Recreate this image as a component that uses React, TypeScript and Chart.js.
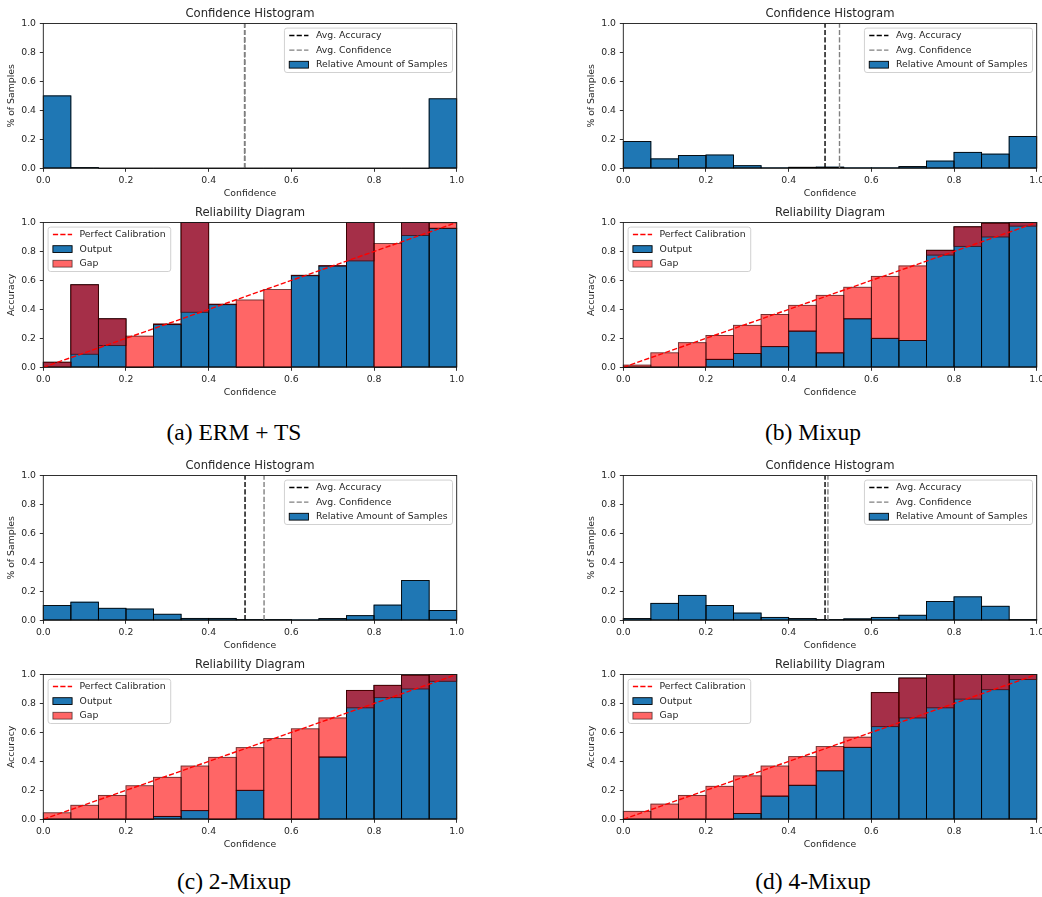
import React, { useEffect, useRef } from 'react';
import { Chart, registerables } from 'chart.js';

Chart.register(...registerables);

// ---------- data ----------
const binCenters = ['0.03', '0.10', '0.17', '0.23', '0.30', '0.37', '0.43', '0.50', '0.57', '0.63', '0.70', '0.77', '0.83', '0.90', '0.97'];
const confidenceTicks = [0, 0.2, 0.4, 0.6, 0.8, 1.0];
const valueTicks = [0, 0.2, 0.4, 0.6, 0.8, 1.0];

// (a) ERM + TS
const histA = [0.5, 0.005, 0, 0, 0, 0, 0, 0, 0, 0, 0, 0, 0, 0, 0.48];
const accA = [0.035, 0.57, 0.335, 0, 0.295, 1.0, 0.433, 0, 0, 0.633, 0.7, 1.0, 0, 1.0, 0.96];
const confA = [0.003, 0.09, 0.15, 0.215, 0.3, 0.38, 0.436, 0.465, 0.537, 0.636, 0.702, 0.735, 0.855, 0.91, 0.998];
const avgAccA = 0.487;
const avgConfA = 0.487;

// (b) Mixup
const histB = [0.185, 0.065, 0.088, 0.092, 0.018, 0.003, 0.007, 0.008, 0.003, 0.003, 0.012, 0.05, 0.11, 0.098, 0.22];
const accB = [0, 0, 0, 0.055, 0.095, 0.143, 0.25, 0.1, 0.335, 0.2, 0.185, 0.808, 0.97, 0.995, 1.0];
const confB = [0.015, 0.1, 0.17, 0.22, 0.29, 0.365, 0.428, 0.497, 0.553, 0.628, 0.7, 0.775, 0.835, 0.9, 0.975];
const avgAccB = 0.488;
const avgConfB = 0.523;

// (c) 2-Mixup
const histC = [0.102, 0.125, 0.083, 0.078, 0.042, 0.013, 0.013, 0.005, 0.005, 0.002, 0.012, 0.032, 0.105, 0.275, 0.068];
const accC = [0, 0, 0, 0, 0.02, 0.06, 0, 0.2, 0, 0, 0.43, 0.89, 0.925, 0.995, 1.0];
const confC = [0.045, 0.097, 0.165, 0.232, 0.29, 0.368, 0.428, 0.495, 0.558, 0.625, 0.7, 0.77, 0.84, 0.9, 0.953];
const avgAccC = 0.488;
const avgConfC = 0.534;

// (d) 4-Mixup
const histD = [0.012, 0.117, 0.172, 0.102, 0.05, 0.02, 0.012, 0.005, 0.01, 0.02, 0.035, 0.13, 0.162, 0.097, 0.005];
const accD = [0, 0, 0, 0, 0.04, 0.16, 0.235, 0.335, 0.497, 0.875, 0.975, 1.0, 1.0, 1.0, 1.0];
const confD = [0.055, 0.105, 0.165, 0.228, 0.3, 0.368, 0.433, 0.503, 0.567, 0.64, 0.7, 0.77, 0.83, 0.895, 0.965];
const avgAccD = 0.488;
const avgConfD = 0.495;

const captions = ['(a) ERM + TS', '(b) Mixup', '(c) 2-Mixup', '(d) 4-Mixup'];

// ---------- styles ----------
const FONT = 'DejaVu Sans';
const TEXT = '#262626';
const AXIS = '#1a1a1a';
const BLUE = '#1f77b4';
const GAP = 'rgba(255,0,0,0.6)';
const GAP_EDGE = 'rgba(0,0,0,0.6)';
const DASH = [5.2, 2.2];
const SMALL = 9.3;
const TITLE = 11.6;
const CW = 470;
const CH = 199;

type Panel = { hist: number[]; acc: number[]; conf: number[]; avgAcc: number; avgConf: number };
const panels: Panel[] = [
  { hist: histA, acc: accA, conf: confA, avgAcc: avgAccA, avgConf: avgConfA },
  { hist: histB, acc: accB, conf: confB, avgAcc: avgAccB, avgConf: avgConfB },
  { hist: histC, acc: accC, conf: confC, avgAcc: avgAccC, avgConf: avgConfC },
  { hist: histD, acc: accD, conf: confD, avgAcc: avgAccD, avgConf: avgConfD },
];

const smallFont = { family: FONT, size: SMALL, weight: 'normal' as const };

const edgesAndFrame = {
  id: 'edgesAndFrame',
  afterDatasetDraw(chart: any, args: any) {
    const ds: any = chart.data.datasets[args.index];
    if (!ds.edgeColor) return;
    const ctx = chart.ctx;
    ctx.save();
    ctx.strokeStyle = ds.edgeColor;
    ctx.lineWidth = 0.9;
    args.meta.data.forEach((el: any) => {
      const p = el.getProps(['x', 'y', 'base', 'width'], true);
      const top = Math.min(p.y, p.base);
      const h = Math.abs(p.base - p.y);
      ctx.strokeRect(p.x - p.width / 2, top, p.width, h);
    });
    ctx.restore();
  },
  afterDatasetsDraw(chart: any) {
    const { ctx, chartArea: a } = chart;
    ctx.save();
    ctx.strokeStyle = AXIS;
    ctx.lineWidth = 0.9;
    ctx.strokeRect(a.left, a.top, a.right - a.left, a.bottom - a.top);
    ctx.restore();
  },
};

type LegendItem = { kind: 'line' | 'patch'; label: string; color: string; edge?: string };

function makeLegend(items: LegendItem[], corner: 'left' | 'right') {
  return {
    id: 'insideLegend',
    afterDraw(chart: any) {
      const { ctx, chartArea: a } = chart;
      ctx.save();
      ctx.font = `${SMALL}px "${FONT}"`;
      const textW = Math.max(...items.map((it) => ctx.measureText(it.label).width));
      const w = 31.5 + textW + 5;
      const h = 44.4;
      const x0 = corner === 'right' ? a.right - 4.2 - w : a.left + 4.8;
      const y0 = a.top + 4.6;
      const r = 2.5;
      ctx.beginPath();
      ctx.moveTo(x0 + r, y0);
      ctx.lineTo(x0 + w - r, y0);
      ctx.arcTo(x0 + w, y0, x0 + w, y0 + r, r);
      ctx.lineTo(x0 + w, y0 + h - r);
      ctx.arcTo(x0 + w, y0 + h, x0 + w - r, y0 + h, r);
      ctx.lineTo(x0 + r, y0 + h);
      ctx.arcTo(x0, y0 + h, x0, y0 + h - r, r);
      ctx.lineTo(x0, y0 + r);
      ctx.arcTo(x0, y0, x0 + r, y0, r);
      ctx.closePath();
      ctx.fillStyle = 'rgba(255,255,255,0.8)';
      ctx.fill();
      ctx.strokeStyle = '#cccccc';
      ctx.lineWidth = 0.9;
      ctx.stroke();
      items.forEach((it, i) => {
        const cy = y0 + 7.4 + i * 14.6;
        const hx = x0 + 4.8;
        const hw = 19.2;
        if (it.kind === 'line') {
          ctx.beginPath();
          ctx.setLineDash(DASH);
          ctx.strokeStyle = it.color;
          ctx.lineWidth = 1.4;
          ctx.moveTo(hx, cy);
          ctx.lineTo(hx + hw, cy);
          ctx.stroke();
          ctx.setLineDash([]);
        } else {
          ctx.fillStyle = it.color;
          ctx.fillRect(hx, cy - 3.4, hw, 6.8);
          ctx.strokeStyle = it.edge || '#000';
          ctx.lineWidth = 0.9;
          ctx.strokeRect(hx, cy - 3.4, hw, 6.8);
        }
        ctx.fillStyle = TEXT;
        ctx.textBaseline = 'middle';
        ctx.textAlign = 'left';
        ctx.fillText(it.label, x0 + 31.5, cy);
      });
      ctx.restore();
    },
  };
}

function xAxis(): any {
  return {
    type: 'linear',
    position: 'bottom',
    min: 0,
    max: 1,
    offset: false,
    grid: { display: true, drawOnChartArea: false, drawTicks: true, tickLength: 3.5, color: AXIS, lineWidth: 0.9, offset: false },
    border: { display: false },
    ticks: {
      padding: 3.2,
      font: smallFont,
      color: TEXT,
      maxRotation: 0,
      autoSkip: false,
      callback: (v: any) => Number(v).toFixed(1),
    },
    afterBuildTicks: (s: any) => {
      s.ticks = confidenceTicks.map((v) => ({ value: v }));
    },
    afterFit: (s: any) => {
      s.height = 30.6;
    },
    title: { display: true, text: 'Confidence', font: smallFont, color: TEXT, padding: { top: 0, bottom: 0 } },
  };
}

function yAxis(label: string): any {
  return {
    type: 'linear',
    position: 'left',
    min: 0,
    max: 1,
    grid: { display: true, drawOnChartArea: false, drawTicks: true, tickLength: 3.5, color: AXIS, lineWidth: 0.9 },
    border: { display: false },
    ticks: {
      padding: 3.8,
      font: smallFont,
      color: TEXT,
      autoSkip: false,
      callback: (v: any) => Number(v).toFixed(1),
    },
    afterBuildTicks: (s: any) => {
      s.ticks = valueTicks.map((v) => ({ value: v }));
    },
    afterFit: (s: any) => {
      s.width = 43.3;
    },
    title: { display: true, text: label, font: smallFont, color: TEXT, padding: { top: 6.1, bottom: 0 } },
  };
}

function baseOptions(title: string, yLabel: string): any {
  return {
    animation: false,
    responsive: false,
    maintainAspectRatio: false,
    devicePixelRatio: 1,
    events: [],
    layout: { padding: { left: 0, right: 13.3, top: 0, bottom: 0.1 } },
    scales: {
      xc: { type: 'category', display: false, offset: true, grid: { offset: true } },
      x: xAxis(),
      y: yAxis(yLabel),
    },
    plugins: {
      legend: { display: false },
      tooltip: { enabled: false },
      title: {
        display: true,
        text: title,
        fullSize: false,
        color: TEXT,
        font: { family: FONT, size: TITLE, weight: 'normal' },
        padding: { top: 7.5, bottom: 2.08 },
      },
    },
  };
}

function histConfig(p: Panel): any {
  return {
    type: 'bar',
    data: {
      labels: binCenters,
      datasets: [
        {
          type: 'line',
          label: 'Avg. Confidence',
          data: [{ x: p.avgConf, y: 0 }, { x: p.avgConf, y: 1 }],
          xAxisID: 'x',
          yAxisID: 'y',
          borderColor: '#808080',
          borderWidth: 1.4,
          borderDash: DASH,
          pointRadius: 0,
          fill: false,
          order: 1,
        },
        {
          type: 'line',
          label: 'Avg. Accuracy',
          data: [{ x: p.avgAcc, y: 0 }, { x: p.avgAcc, y: 1 }],
          xAxisID: 'x',
          yAxisID: 'y',
          borderColor: '#000000',
          borderWidth: 1.4,
          borderDash: DASH,
          pointRadius: 0,
          fill: false,
          order: 2,
        },
        {
          type: 'bar',
          label: 'Relative Amount of Samples',
          data: p.hist,
          xAxisID: 'xc',
          yAxisID: 'y',
          backgroundColor: BLUE,
          borderWidth: 0,
          barPercentage: 1,
          categoryPercentage: 1,
          grouped: false,
          edgeColor: '#000000',
          order: 3,
        },
      ],
    },
    options: baseOptions('Confidence Histogram', '% of Samples'),
    plugins: [
      edgesAndFrame,
      makeLegend(
        [
          { kind: 'line', label: 'Avg. Accuracy', color: '#000000' },
          { kind: 'line', label: 'Avg. Confidence', color: '#808080' },
          { kind: 'patch', label: 'Relative Amount of Samples', color: BLUE, edge: '#000000' },
        ],
        'right'
      ),
    ],
  };
}

function relConfig(p: Panel): any {
  const gaps = p.acc.map((a, i) => [Math.min(a, p.conf[i]), Math.max(a, p.conf[i])]);
  return {
    type: 'bar',
    data: {
      labels: binCenters,
      datasets: [
        {
          type: 'line',
          label: 'Perfect Calibration',
          data: [{ x: 0, y: 0 }, { x: 1, y: 1 }],
          xAxisID: 'x',
          yAxisID: 'y',
          borderColor: '#ff0000',
          borderWidth: 1.4,
          borderDash: DASH,
          pointRadius: 0,
          fill: false,
          order: 0,
        },
        {
          type: 'bar',
          label: 'Gap',
          data: gaps,
          xAxisID: 'xc',
          yAxisID: 'y',
          backgroundColor: GAP,
          borderWidth: 0,
          barPercentage: 1,
          categoryPercentage: 1,
          grouped: false,
          edgeColor: GAP_EDGE,
          order: 1,
        },
        {
          type: 'bar',
          label: 'Output',
          data: p.acc,
          xAxisID: 'xc',
          yAxisID: 'y',
          backgroundColor: BLUE,
          borderWidth: 0,
          barPercentage: 1,
          categoryPercentage: 1,
          grouped: false,
          edgeColor: '#000000',
          order: 2,
        },
      ],
    },
    options: baseOptions('Reliability Diagram', 'Accuracy'),
    plugins: [
      edgesAndFrame,
      makeLegend(
        [
          { kind: 'line', label: 'Perfect Calibration', color: '#ff0000' },
          { kind: 'patch', label: 'Output', color: BLUE, edge: '#000000' },
          { kind: 'patch', label: 'Gap', color: GAP, edge: GAP_EDGE },
        ],
        'left'
      ),
    ],
  };
}

function ChartCanvas({ make, left, top }: { make: () => any; left: number; top: number }) {
  const ref = useRef<HTMLCanvasElement>(null);
  useEffect(() => {
    const chart = new Chart(ref.current as HTMLCanvasElement, make());
    return () => chart.destroy();
  }, []);
  return (
    <canvas
      ref={ref}
      width={CW}
      height={CH}
      style={{ position: 'absolute', left, top, width: CW, height: CH }}
    />
  );
}

const colLeft = [0, 580];
const rowTop = [0, 452];
const capCenterX = [234, 813];
const capTop = [420.6, 870.4];

export default function App() {
  return (
    <div
      style={{
        position: 'absolute',
        left: 0,
        top: 0,
        width: 1042,
        height: 897,
        overflow: 'hidden',
        background: '#ffffff',
      }}
    >
      {panels.map((p, i) => {
        const col = i % 2;
        const row = Math.floor(i / 2);
        return (
          <React.Fragment key={i}>
            <ChartCanvas make={() => histConfig(p)} left={colLeft[col]} top={rowTop[row]} />
            <ChartCanvas make={() => relConfig(p)} left={colLeft[col]} top={rowTop[row] + CH} />
            <div
              style={{
                position: 'absolute',
                left: capCenterX[col] - 150,
                top: capTop[row],
                width: 300,
                textAlign: 'center',
                fontFamily: '"Liberation Serif", "Times New Roman", serif',
                fontSize: 23.5,
                lineHeight: '23.5px',
                color: '#000',
                whiteSpace: 'nowrap',
              }}
            >
              {captions[i]}
            </div>
          </React.Fragment>
        );
      })}
    </div>
  );
}
